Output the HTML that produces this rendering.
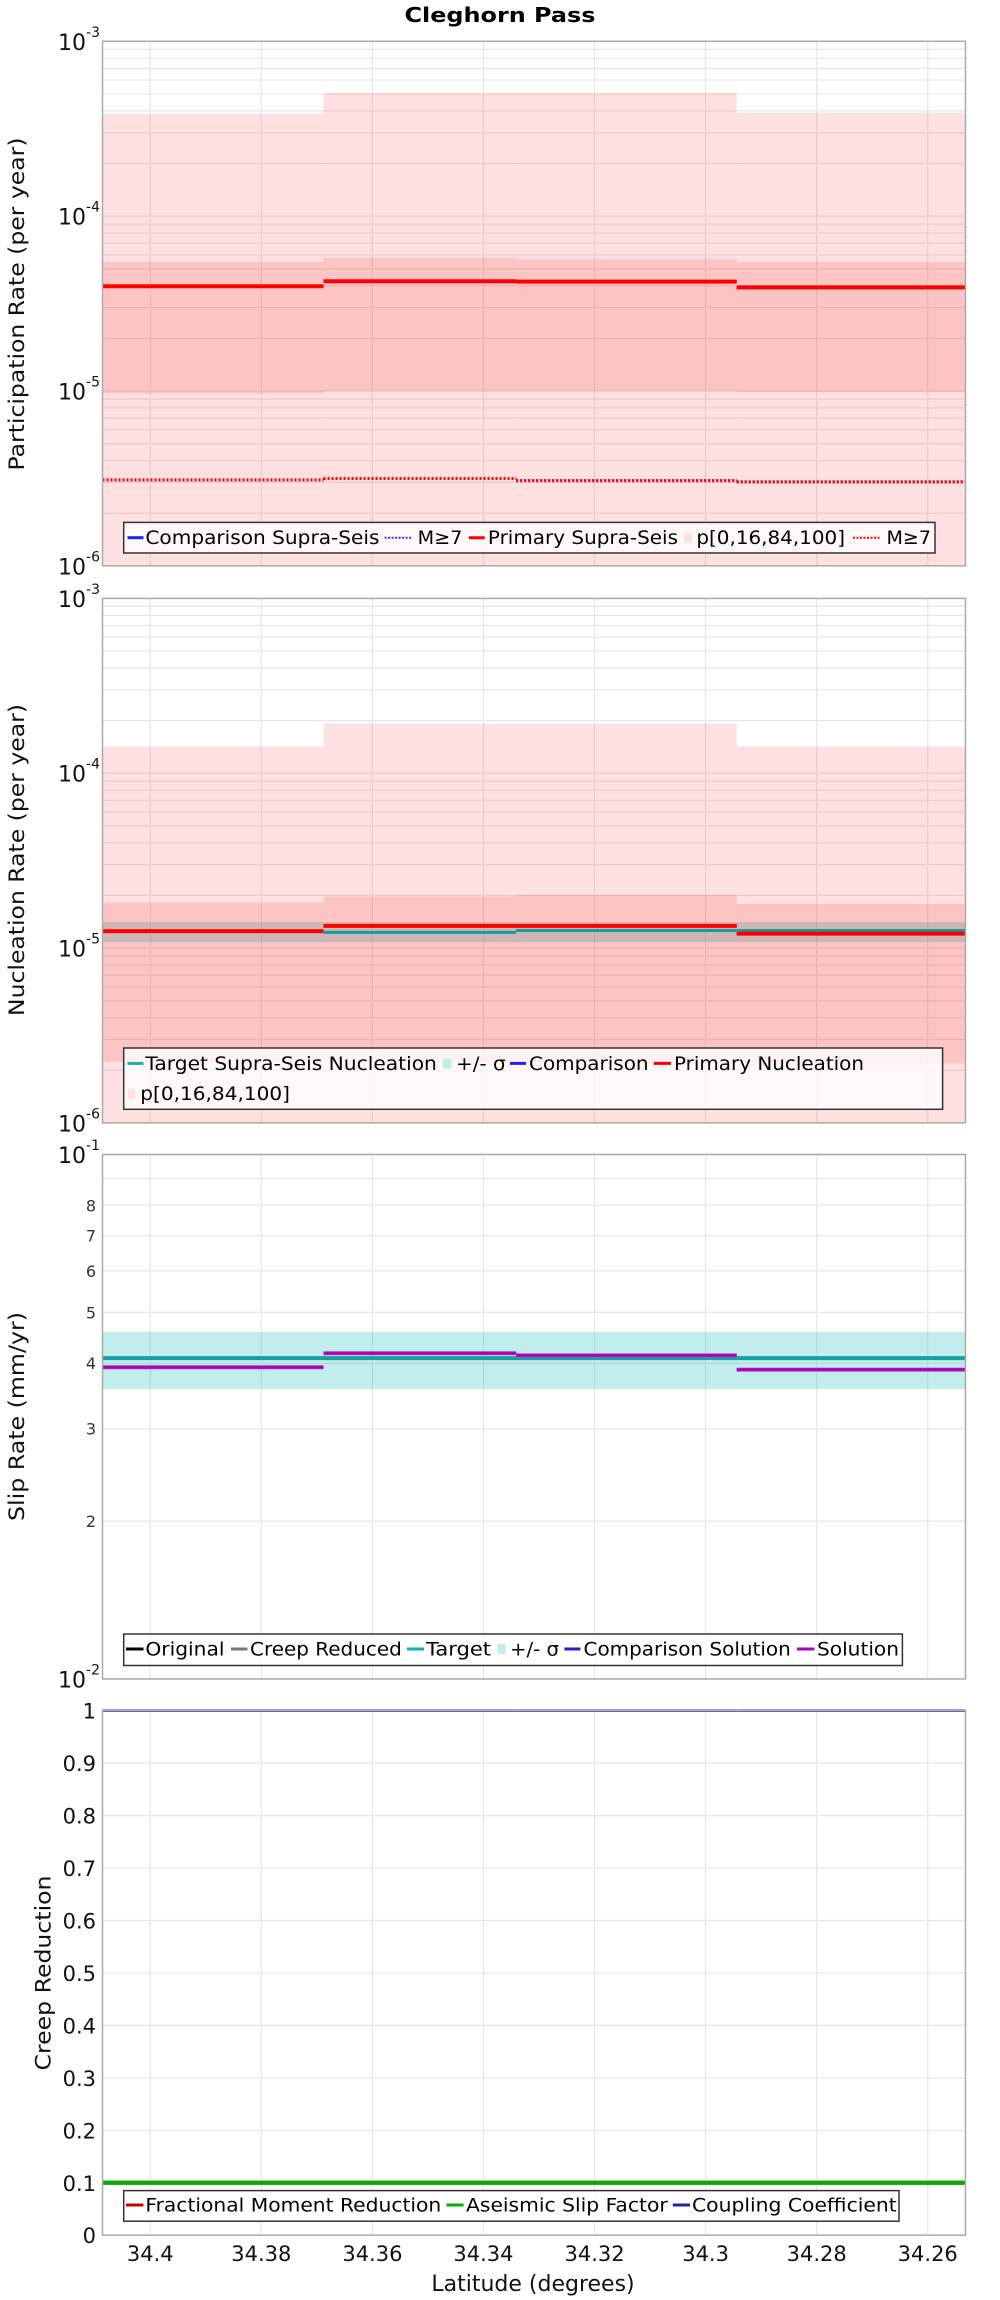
<!DOCTYPE html>
<html><head><meta charset="utf-8"><title>Cleghorn Pass</title>
<style>
html,body{margin:0;padding:0;background:#fff;}
svg{display:block;font-family:"DejaVu Sans","Liberation Sans",sans-serif;}
</style></head>
<body>
<svg id="chart" width="1000" height="2300" viewBox="0 0 1000 2300" xmlns="http://www.w3.org/2000/svg">
<text x="500" y="22" text-anchor="middle" font-size="20" font-weight="bold" textLength="191" lengthAdjust="spacingAndGlyphs">Cleghorn Pass</text>
</svg>
<script>
// ---- shared data ----
const segEdges = [34.4086, 34.3688, 34.3341, 34.2944, 34.2532];
const xTicks = [34.4, 34.38, 34.36, 34.34, 34.32, 34.3, 34.28, 34.26];
const xTickLabels = ["34.4","34.38","34.36","34.34","34.32","34.3","34.28","34.26"];
// ---- panel 1: participation ----
const partP0 = [3.85e-4, 5.07e-4, 5.07e-4, 3.9e-4];
const partP100 = [5e-7, 5e-7, 5e-7, 5e-7];
const partP16 = [9.68e-6, 9.97e-6, 9.97e-6, 9.84e-6];
const partP84 = [5.47e-5, 5.78e-5, 5.67e-5, 5.47e-5];
const partPrimary = [3.97e-5, 4.24e-5, 4.22e-5, 3.91e-5];
const partComparison = [3.97e-5, 4.24e-5, 4.22e-5, 3.91e-5];
const partCompM7 = [3.1e-6, 3.16e-6, 3.07e-6, 3.02e-6];
const partPrimM7 = [3.1e-6, 3.16e-6, 3.07e-6, 3.02e-6];
// ---- panel 2: nucleation ----
const nuclP100 = [1.42e-4, 1.92e-4, 1.92e-4, 1.42e-4];
const nuclP0 = [5e-7, 5e-7, 5e-7, 5e-7];
const nuclP16 = [2.24e-6, 2.2e-6, 2.2e-6, 2.18e-6];
const nuclP84 = [1.82e-5, 1.97e-5, 2.01e-5, 1.79e-5];
const nuclSigLo = [1.08e-5, 1.08e-5, 1.08e-5, 1.08e-5];
const nuclSigHi = [1.41e-5, 1.41e-5, 1.41e-5, 1.41e-5];
const nuclTarget = [1.25e-5, 1.23e-5, 1.26e-5, 1.26e-5];
const nuclComparison = [1.25e-5, 1.34e-5, 1.34e-5, 1.21e-5];
const nuclPrimary = [1.25e-5, 1.34e-5, 1.34e-5, 1.21e-5];
// ---- panel 3: slip rate (mm/yr) ----
const slipOriginal = [4.09, 4.09, 4.09, 4.09];
const slipCreep = [4.09, 4.09, 4.09, 4.09];
const slipTarget = [4.09, 4.09, 4.09, 4.09];
const slipSigLo = [3.57, 3.57, 3.57, 3.57];
const slipSigHi = [4.59, 4.59, 4.59, 4.59];
const slipComparison = [3.93, 4.18, 4.14, 3.89];
const slipSolution = [3.93, 4.18, 4.14, 3.89];
const slipMinorTicks = [2, 3, 4, 5, 6, 7, 8];
const slipMinorLabels = ["2","3","4","5","6","7","8"];
// ---- panel 4: creep reduction ----
const creepMoment = [0.1, 0.1, 0.1, 0.1];
const creepAseismic = [0.1, 0.1, 0.1, 0.1];
const creepCoupling = [1, 1, 1, 1];
const creepTicks = [0,0.1,0.2,0.3,0.4,0.5,0.6,0.7,0.8,0.9,1];
const creepTickLabels = ["0","0.1","0.2","0.3","0.4","0.5","0.6","0.7","0.8","0.9","1"];

const NS = "http://www.w3.org/2000/svg";
const svg = document.getElementById('chart');
const L = 102.5, R = 965.5, H = 524.5;
const tops = [41.3, 598.4, 1154.5, 1710.7];
function xs(lat){ return L + (segEdges[0] - lat) / (segEdges[0] - segEdges[4]) * (R - L); }
function mk(tag, attrs, parent){ const e = document.createElementNS(NS, tag); for (const k in attrs) e.setAttribute(k, attrs[k]); (parent||svg).appendChild(e); return e; }
function logScale(top, lo, hi){ return v => { const c = Math.max(lo, Math.min(hi, v)); return top + (Math.log10(hi) - Math.log10(c)) / (Math.log10(hi) - Math.log10(lo)) * H; }; }
function linScale(top, lo, hi){ return v => top + (hi - v) / (hi - lo) * H; }

function panelFrame(i, name, ys, hGrid){
  const g = mk('g', {});
  
  
  const bg = mk('rect', {x:L, y:tops[i], width:R-L, height:H, fill:'#fff'}, g);
  
  
  hGrid.forEach(v => { const y = ys(v); const ln = mk('line', {x1:L, x2:R, y1:y, y2:y, stroke:'#e6e6e6', 'stroke-width':1.2}, g);
      });
  xTicks.forEach(t => { const x = xs(t); const ln = mk('line', {x1:x, x2:x, y1:tops[i], y2:tops[i]+H, stroke:'#e6e6e6', 'stroke-width':1.2}, g);
      });
  return g;
}
function border(i, g){ const b = mk('rect', {x:L, y:tops[i], width:R-L, height:H, fill:'none', stroke:'#aaaaaa', 'stroke-width':1.5}, g);
    }
function bands(g, ys, lo, hi, fill, name){
  for (let s = 0; s < 4; s++){
    const y1 = ys(hi[s]), y2 = ys(lo[s]);
    const r = mk('rect', {x:xs(segEdges[s]), y:Math.min(y1,y2), width:xs(segEdges[s+1])-xs(segEdges[s]), height:Math.abs(y2-y1), fill:fill}, g);
    
    
  }
}
function steps(g, ys, vals, color, w, name, dash){
  for (let s = 0; s < 4; s++){
    const y = ys(vals[s]);
    const a = {x1:xs(segEdges[s]), x2:xs(segEdges[s+1]), y1:y, y2:y, stroke:color, 'stroke-width':w};
    if (dash) a['stroke-dasharray'] = dash;
    const ln = mk('line', a, g);
    
    
  }
}
function decadeLabel(g, y, exp){
  const t = mk('text', {x:100, y:y+8.5, 'text-anchor':'end', 'font-size':22, fill:'#111'}, g);
  
  
  t.appendChild(document.createTextNode('10'));
  const sp = mk('tspan', {dy:-13, 'font-size':14}, t);
  sp.textContent = exp;
}
function yTitle(g, x, yc, len, text){
  const t = mk('text', {x:0, y:0, transform:`translate(${x},${yc}) rotate(-90)`, 'text-anchor':'middle', 'dominant-baseline':'middle', 'font-size':21, fill:'#111', textLength:len, lengthAdjust:'spacingAndGlyphs'}, g);
  
  
  t.textContent = text;
}
function legendBox(g, x1, x2, y1, y2){
  const r = mk('rect', {x:x1, y:y1, width:x2-x1, height:y2-y1, fill:'rgba(255,255,255,0.78)', stroke:'#333', 'stroke-width':1.5}, g);
  
  
}
function legendLine(g, x1, x2, y, color, dash, w){
  const a = {x1:x1, x2:x2, y1:y, y2:y, stroke:color, 'stroke-width':w||3};
  if (dash) a['stroke-dasharray'] = dash;
  const l = mk('line', a, g);
  
  
}
function legendSq(g, x1, x2, y, color){
  const r = mk('rect', {x:x1, y:y-5, width:x2-x1, height:10, fill:color}, g);
  
  
}
function legendText(g, x1, x2, y, text){
  const t = mk('text', {x:x1, y:y+6.5, 'font-size':19, fill:'#000', textLength:x2-x1, lengthAdjust:'spacingAndGlyphs'}, g);
  
  
  t.textContent = text;
}
function logGrid(lo, decades){ const a=[]; for (let d=0; d<decades; d++) for (let m=1; m<=9; m++) a.push(lo*Math.pow(10,d)*m); a.push(lo*Math.pow(10,decades)); return a; }

// ---------- Panel 1 ----------
(function(){
  const ys = logScale(tops[0], 1e-6, 1e-3);
  const g = panelFrame(0, 'participation-panel', ys, logGrid(1e-6, 3));
  bands(g, ys, partP100, partP0, 'rgba(250,0,0,0.12)', 'p0-100-band');
  bands(g, ys, partP16, partP84, 'rgba(250,0,0,0.12)', 'p16-84-band');
  steps(g, ys, partComparison, '#2020ff', 3, 'comparison-supra-seis-line');
  steps(g, ys, partPrimary, '#ff0000', 4, 'primary-supra-seis-line');
  steps(g, ys, partCompM7, '#3030ff', 3, 'comparison-m7-line', '2,2');
  steps(g, ys, partPrimM7, '#ff0000', 3, 'primary-m7-line', '2,2');
  border(0, g);
  [[1e-3,'-3'],[1e-4,'-4'],[1e-5,'-5'],[1e-6,'-6']].forEach(p => decadeLabel(g, ys(p[0]), p[1]));
  yTitle(g, 18, 304, 333, 'Participation Rate (per year)');
  const yc = 537.7;
  legendBox(g, 123.7, 935, 522.4, 553);
  legendLine(g, 127.5, 143.5, yc, '#2020ff');
  legendText(g, 145.4, 379.5, yc, 'Comparison Supra-Seis');
  legendLine(g, 384.6, 411, yc, '#3030ff', '2,1.5', 2);
  legendText(g, 417.7, 462.4, yc, 'M≥7');
  legendLine(g, 468.8, 484.7, yc, '#ff0000');
  legendText(g, 487.9, 678, yc, 'Primary Supra-Seis');
  legendSq(g, 684, 692, yc, '#fde0e0');
  legendText(g, 696.4, 845, yc, 'p[0,16,84,100]');
  legendLine(g, 853, 880, yc, '#ff0000', '2,1.5', 2);
  legendText(g, 886.5, 931, yc, 'M≥7');
})();

// ---------- Panel 2 ----------
(function(){
  const ys = logScale(tops[1], 1e-6, 1e-3);
  const g = panelFrame(1, 'nucleation-panel', ys, logGrid(1e-6, 3));
  bands(g, ys, nuclSigLo, nuclSigHi, 'rgba(0,180,180,0.24)', 'sigma-band');
  bands(g, ys, nuclP0, nuclP100, 'rgba(250,0,0,0.12)', 'p0-100-band');
  bands(g, ys, nuclP16, nuclP84, 'rgba(250,0,0,0.12)', 'p16-84-band');
  steps(g, ys, nuclTarget, '#1a9a9a', 3, 'target-nucleation-line');
  steps(g, ys, nuclComparison, '#2020ff', 3, 'comparison-nucleation-line');
  steps(g, ys, nuclPrimary, '#ff0000', 4, 'primary-nucleation-line');
  border(1, g);
  [[1e-3,'-3'],[1e-4,'-4'],[1e-5,'-5'],[1e-6,'-6']].forEach(p => decadeLabel(g, ys(p[0]), p[1]));
  yTitle(g, 18, 860, 312, 'Nucleation Rate (per year)');
  legendBox(g, 123.7, 942.6, 1048, 1109.3);
  const y1 = 1063.4, y2 = 1093.6;
  legendLine(g, 127.5, 143.5, y1, '#1ab0b0');
  legendText(g, 145.4, 436.9, y1, 'Target Supra-Seis Nucleation');
  legendSq(g, 443, 451.5, y1, '#c2ecec');
  legendText(g, 456, 505.7, y1, '+/- σ');
  legendLine(g, 510, 526, y1, '#2020ff');
  legendText(g, 529, 648.6, y1, 'Comparison');
  legendLine(g, 653.7, 671, y1, '#ff0000');
  legendText(g, 674, 864, y1, 'Primary Nucleation');
  legendSq(g, 127.5, 135, y2, '#fde0e0');
  legendText(g, 140.3, 290, y2, 'p[0,16,84,100]');
})();

// ---------- Panel 3 ----------
(function(){
  const ys = logScale(tops[2], 1, 10);
  const g = panelFrame(2, 'slip-rate-panel', ys, [1,2,3,4,5,6,7,8,9,10]);
  bands(g, ys, slipSigLo, slipSigHi, 'rgba(0,180,180,0.24)', 'sigma-band');
  steps(g, ys, slipOriginal, '#000000', 3, 'original-slip-line');
  steps(g, ys, slipCreep, '#777777', 3, 'creep-reduced-line');
  steps(g, ys, slipTarget, '#16a0a0', 4, 'target-slip-line');
  steps(g, ys, slipComparison, '#9a5acc', 4, 'comparison-solution-line');
  steps(g, ys, slipSolution, '#b000b8', 3, 'solution-line');
  border(2, g);
  decadeLabel(g, ys(10), '-1');
  decadeLabel(g, ys(1), '-2');
  slipMinorTicks.forEach((v, k) => {
    const t = mk('text', {x:96, y:ys(v)+6, 'text-anchor':'end', 'font-size':16, fill:'#333'}, g);
    
    
    t.textContent = slipMinorLabels[k];
  });
  yTitle(g, 18, 1416.5, 209, 'Slip Rate (mm/yr)');
  const yc = 1649;
  legendBox(g, 123.7, 902.4, 1634, 1665.5);
  legendLine(g, 126, 143.5, yc, '#000');
  legendText(g, 145.4, 224.5, yc, 'Original');
  legendLine(g, 231, 247.4, yc, '#777');
  legendText(g, 250, 401.8, yc, 'Creep Reduced');
  legendLine(g, 407, 424, yc, '#16b0b0');
  legendText(g, 426, 491, yc, 'Target');
  legendSq(g, 497.4, 505.7, yc, '#c2ecec');
  legendText(g, 510, 559, yc, '+/- σ');
  legendLine(g, 564.4, 580.4, yc, '#2020cc');
  legendText(g, 583.5, 790.8, yc, 'Comparison Solution');
  legendLine(g, 797, 814.4, yc, '#b000b8');
  legendText(g, 817, 899, yc, 'Solution');
})();

// ---------- Panel 4 ----------
(function(){
  const ys = linScale(tops[3], 0, 1);
  const g = panelFrame(3, 'creep-reduction-panel', ys, creepTicks);
  steps(g, ys, creepMoment, '#cc0000', 4, 'fractional-moment-line');
  steps(g, ys, creepAseismic, '#00b000', 4, 'aseismic-slip-line');
  steps(g, ys, creepCoupling, '#3535bb', 2.5, 'coupling-coefficient-line');
  border(3, g);
  creepTicks.forEach((v, k) => {
    const t = mk('text', {x:96, y:ys(v)+8, 'text-anchor':'end', 'font-size':21, fill:'#111'}, g);
    
    
    t.textContent = creepTickLabels[k];
  });
  xTicks.forEach((v, k) => {
    const t = mk('text', {x:xs(v), y:2261, 'text-anchor':'middle', 'font-size':21, fill:'#111'}, g);
    
    
    t.textContent = xTickLabels[k];
  });
  const xt = mk('text', {x:533, y:2291, 'text-anchor':'middle', 'font-size':22, fill:'#111'}, g);
  
  
  xt.textContent = 'Latitude (degrees)';
  yTitle(g, 44.6, 1973, 195, 'Creep Reduction');
  const yc = 2205;
  legendBox(g, 123.7, 899, 2190.6, 2221.2);
  legendLine(g, 126, 143.5, yc, '#cc0000');
  legendText(g, 145.4, 441.3, yc, 'Fractional Moment Reduction');
  legendLine(g, 446.4, 463.6, yc, '#00b000');
  legendText(g, 466, 667.7, yc, 'Aseismic Slip Factor');
  legendLine(g, 672.8, 690, yc, '#2020aa');
  legendText(g, 692, 896.7, yc, 'Coupling Coefficient');
})();
</script>
</body></html>
